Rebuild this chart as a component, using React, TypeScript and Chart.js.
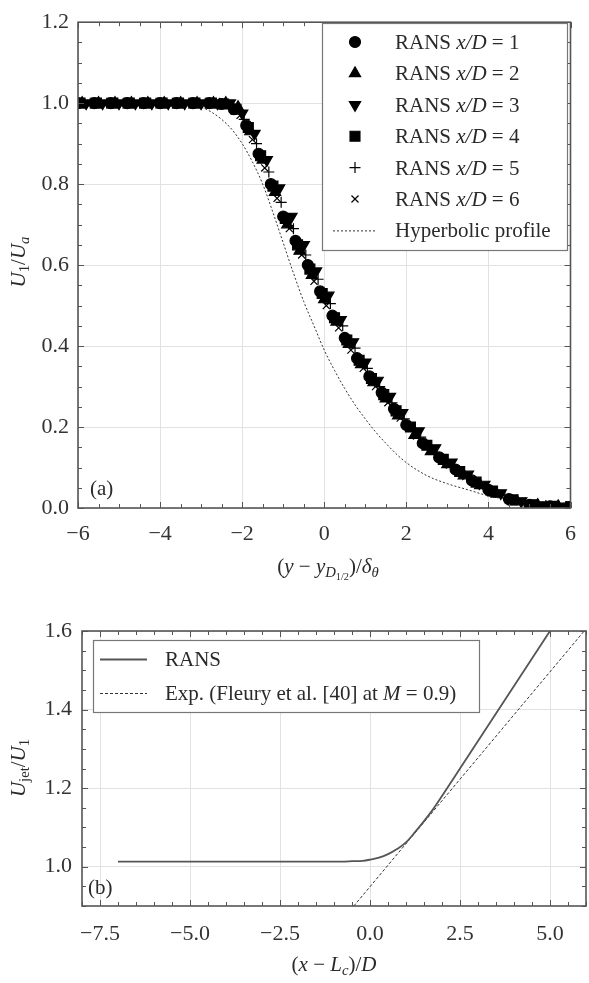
import React, { useEffect, useRef } from 'react';
import { Chart, registerables } from 'chart.js';
import { drawPoint } from 'chart.js/helpers';

Chart.register(...registerables);

const FONT = "'Liberation Serif', 'Times New Roman', 'DejaVu Serif', serif";

// ---------------- Panel (a) data ----------------
const stations = [1, 2, 3, 4, 5, 6];
const markerStyles = ['circle', 'triangle', 'triangle', 'rect', 'cross', 'crossRot'];
const markerRotations = [0, 0, 180, 0, 0, 0];
const markerRadii = [5.5, 6.5, 6.5, 7, 5.5, 5];

const xA1 = [-6.0, -5.6, -5.2, -4.8, -4.4, -4.0, -3.6, -3.2, -2.8, -2.5, -2.2, -1.9, -1.6, -1.3, -1.0, -0.7, -0.4, -0.1, 0.2, 0.5, 0.8, 1.1, 1.4, 1.7, 2.0, 2.4, 2.8, 3.2, 3.6, 4.0, 4.5, 5.0, 5.5, 6.0];
const yA1 = [1, 1, 1, 1, 1, 1, 1, 1, 1, 0.998, 0.985, 0.945, 0.875, 0.8, 0.72, 0.66, 0.6, 0.535, 0.475, 0.42, 0.37, 0.325, 0.285, 0.245, 0.205, 0.16, 0.125, 0.095, 0.068, 0.045, 0.022, 0.008, 0.004, 0.003];

const xA2 = [-5.9, -5.5, -5.1, -4.7, -4.3, -3.9, -3.5, -3.1, -2.7, -2.4, -2.1, -1.8, -1.5, -1.2, -0.9, -0.6, -0.3, 0.0, 0.3, 0.6, 0.9, 1.2, 1.5, 1.8, 2.2, 2.6, 3.0, 3.4, 3.8, 4.2, 4.7, 5.2, 5.7];
const yA2 = [1, 1, 1, 1, 1, 1, 1, 1, 1, 1, 0.99, 0.93, 0.86, 0.78, 0.7, 0.635, 0.575, 0.515, 0.46, 0.405, 0.355, 0.31, 0.27, 0.228, 0.18, 0.14, 0.108, 0.08, 0.056, 0.035, 0.016, 0.007, 0.004];

const xA3 = [-5.8, -5.4, -5.0, -4.6, -4.2, -3.8, -3.4, -3.0, -2.6, -2.3, -2.0, -1.7, -1.4, -1.1, -0.8, -0.5, -0.2, 0.1, 0.4, 0.7, 1.0, 1.3, 1.6, 1.9, 2.3, 2.7, 3.1, 3.5, 3.9, 4.3, 4.8, 5.3, 5.8];
const yA3 = [1, 1, 1, 1, 1, 1, 1, 1, 1, 1, 0.975, 0.925, 0.86, 0.79, 0.72, 0.65, 0.585, 0.525, 0.465, 0.41, 0.36, 0.315, 0.275, 0.235, 0.19, 0.148, 0.113, 0.083, 0.058, 0.037, 0.017, 0.007, 0.004];

const xA4 = [-5.95, -5.55, -5.15, -4.75, -4.35, -3.95, -3.55, -3.15, -2.75, -2.45, -2.15, -1.85, -1.55, -1.25, -0.95, -0.65, -0.35, -0.05, 0.25, 0.55, 0.85, 1.15, 1.45, 1.75, 2.1, 2.5, 2.9, 3.3, 3.7, 4.1, 4.6, 5.1, 5.6, 6.0];
const yA4 = [1, 1, 1, 1, 1, 1, 1, 1, 1, 0.998, 0.985, 0.94, 0.87, 0.795, 0.715, 0.65, 0.59, 0.53, 0.47, 0.415, 0.365, 0.32, 0.28, 0.24, 0.2, 0.155, 0.12, 0.09, 0.064, 0.042, 0.02, 0.008, 0.004, 0.003];

const xA5 = [-5.7, -5.3, -4.9, -4.5, -4.1, -3.7, -3.3, -2.9, -2.55, -2.25, -1.95, -1.65, -1.35, -1.05, -0.75, -0.45, -0.15, 0.15, 0.45, 0.75, 1.05, 1.35, 1.65, 1.95, 2.35, 2.75, 3.15, 3.55, 3.95, 4.4, 4.9, 5.4, 5.9];
const yA5 = [1, 1, 1, 1, 1, 1, 1, 1, 1, 0.995, 0.96, 0.9, 0.83, 0.755, 0.69, 0.625, 0.565, 0.505, 0.45, 0.395, 0.345, 0.3, 0.26, 0.22, 0.175, 0.135, 0.103, 0.076, 0.052, 0.031, 0.013, 0.006, 0.003];

const xA6 = [-5.75, -5.35, -4.95, -4.55, -4.15, -3.75, -3.35, -2.95, -2.65, -2.35, -2.05, -1.75, -1.45, -1.15, -0.85, -0.55, -0.25, 0.05, 0.35, 0.65, 0.95, 1.25, 1.55, 1.85, 2.25, 2.65, 3.05, 3.45, 3.85, 4.25, 4.75, 5.25, 5.75];
const yA6 = [1, 1, 1, 1, 1, 1, 1, 1, 1, 0.998, 0.97, 0.91, 0.84, 0.765, 0.69, 0.625, 0.56, 0.5, 0.445, 0.39, 0.345, 0.3, 0.26, 0.222, 0.178, 0.14, 0.106, 0.078, 0.053, 0.034, 0.016, 0.007, 0.004];

const hypX = [-6, -5, -4, -3.5, -3, -2.75, -2.5, -2.25, -2, -1.75, -1.5, -1.25, -1, -0.75, -0.5, -0.25, 0, 0.25, 0.5, 0.75, 1, 1.25, 1.5, 1.75, 2, 2.5, 3, 3.5, 4, 4.5, 5, 5.5, 6];
const hypY = [1, 1, 1, 0.999, 0.99, 0.978, 0.96, 0.935, 0.9, 0.855, 0.8, 0.73, 0.655, 0.58, 0.51, 0.45, 0.39, 0.34, 0.295, 0.255, 0.22, 0.188, 0.16, 0.134, 0.112, 0.08, 0.06, 0.045, 0.03, 0.02, 0.01, 0.005, 0.003];

const xTicksA = [-6, -4, -2, 0, 2, 4, 6];
const yTicksA = [0, 0.2, 0.4, 0.6, 0.8, 1.0, 1.2];

// ---------------- Panel (b) data ----------------
const ransX = [-7, -6, -5, -4, -3, -2, -1, -0.5, -0.2, 0, 0.25, 0.5, 0.75, 1.0, 1.25, 1.5, 1.75, 2.0, 2.5, 3.0, 3.5, 4.0, 4.5, 5.0, 5.2];
const ransY = [1.013, 1.013, 1.013, 1.013, 1.013, 1.013, 1.013, 1.014, 1.015, 1.018, 1.023, 1.032, 1.045, 1.062, 1.088, 1.116, 1.146, 1.18, 1.25, 1.32, 1.39, 1.46, 1.53, 1.6, 1.628];
const expX = [-0.45, 5.95];
const expY = [0.9, 1.6];

const xTicksB = [-7.5, -5, -2.5, 0, 2.5, 5];
const yTicksB = [1.0, 1.2, 1.4, 1.6];

// ---------------- helpers ----------------
type Seg = { t: string; i?: boolean; s?: number };

const fmt = (v: number, d: number) => (v < -1e-9 ? '\u2212' : '') + Math.abs(v).toFixed(d);

function drawRich(ctx: CanvasRenderingContext2D, segs: Seg[], x: number, y: number, size: number, align: 'left' | 'center', rot = 0, color = '#222') {
  ctx.save();
  ctx.translate(x, y);
  if (rot) ctx.rotate(rot);
  ctx.fillStyle = color;
  ctx.textBaseline = 'alphabetic';
  ctx.textAlign = 'left';
  const fontFor = (sg: Seg) => {
    const lv = sg.s || 0;
    const sz = size * Math.pow(0.7, lv);
    return `${sg.i ? 'italic ' : ''}${sz}px ${FONT}`;
  };
  let w = 0;
  const widths = segs.map((sg) => {
    ctx.font = fontFor(sg);
    const m = ctx.measureText(sg.t).width;
    w += m;
    return m;
  });
  let cx = align === 'center' ? -w / 2 : 0;
  segs.forEach((sg, k) => {
    ctx.font = fontFor(sg);
    const lv = sg.s || 0;
    const dy = lv === 0 ? 0 : lv === 1 ? size * 0.2 : size * 0.33;
    ctx.fillText(sg.t, cx, dy);
    cx += widths[k];
  });
  ctx.restore();
}

function labelSegs(label: string): Seg[] {
  return label
    .split(/(x\/D|\bM\b)/)
    .filter((p) => p.length > 0)
    .map((p) => ({ t: p, i: p === 'x/D' || p === 'M' }));
}

type FrameCfg = {
  minorX: number;
  minorY: number;
  legend: {
    box: [number, number, number, number];
    rows: number[];
    y0: number;
    dy: number;
    markerX: number;
    lineX0: number;
    lineX1: number;
    textX: number;
    size: number;
  };
  titles: { segs: Seg[]; x: number; y: number; size: number; align: 'left' | 'center'; rot?: number }[];
};

function makeFramePlugin(cfg: FrameCfg) {
  return {
    id: 'frame',
    afterDatasetsDraw(chart: any) {
      const ctx: CanvasRenderingContext2D = chart.ctx;
      const a = chart.chartArea;
      const sx = chart.scales.x;
      const sy = chart.scales.y;
      ctx.save();
      ctx.strokeStyle = '#555';
      ctx.lineWidth = 1;
      const majX = sx.ticks.map((t: any) => t.value);
      const majY = sy.ticks.map((t: any) => t.value);
      const isMaj = (v: number, arr: number[]) => arr.some((m) => Math.abs(m - v) < 1e-6);
      const nX = Math.round((sx.max - sx.min) / cfg.minorX);
      for (let k = 0; k <= nX; k++) {
        const v = sx.min + k * cfg.minorX;
        const p = Math.round(sx.getPixelForValue(v)) + 0.5;
        const len = isMaj(v, majX) ? 6 : 4;
        ctx.beginPath();
        ctx.moveTo(p, a.bottom);
        ctx.lineTo(p, a.bottom - len);
        ctx.moveTo(p, a.top);
        ctx.lineTo(p, a.top + len);
        ctx.stroke();
      }
      const nY = Math.round((sy.max - sy.min) / cfg.minorY);
      for (let k = 0; k <= nY; k++) {
        const v = sy.min + k * cfg.minorY;
        const p = Math.round(sy.getPixelForValue(v)) + 0.5;
        const len = isMaj(v, majY) ? 6 : 4;
        ctx.beginPath();
        ctx.moveTo(a.left, p);
        ctx.lineTo(a.left + len, p);
        ctx.moveTo(a.right, p);
        ctx.lineTo(a.right - len, p);
        ctx.stroke();
      }
      ctx.strokeStyle = '#555';
      ctx.lineWidth = 1.6;
      ctx.strokeRect(a.left, a.top, a.right - a.left, a.bottom - a.top);

      const L = cfg.legend;
      ctx.fillStyle = '#fff';
      ctx.fillRect(L.box[0], L.box[1], L.box[2], L.box[3]);
      ctx.strokeStyle = '#777';
      ctx.lineWidth = 1.2;
      ctx.strokeRect(L.box[0] + 0.5, L.box[1] + 0.5, L.box[2], L.box[3]);
      L.rows.forEach((di, r) => {
        const ds = chart.data.datasets[di];
        const cy = L.y0 + r * L.dy;
        if (ds.showLine) {
          ctx.save();
          ctx.strokeStyle = ds.borderColor;
          ctx.lineWidth = ds.borderWidth;
          ctx.setLineDash(ds.borderDash || []);
          ctx.beginPath();
          ctx.moveTo(L.lineX0, cy + 0.5);
          ctx.lineTo(L.lineX1, cy + 0.5);
          ctx.stroke();
          ctx.restore();
        } else {
          ctx.save();
          ctx.fillStyle = ds.backgroundColor;
          ctx.strokeStyle = ds.borderColor;
          ctx.lineWidth = ds.borderWidth;
          drawPoint(ctx, { pointStyle: ds.pointStyle, rotation: ds.rotation || 0, radius: ds.pointRadius, borderWidth: ds.borderWidth } as any, L.markerX, cy);
          ctx.restore();
        }
        drawRich(ctx, labelSegs(ds.label), L.textX, cy + 7, L.size, 'left', 0, '#2a2a2a');
      });

      cfg.titles.forEach((t) => drawRich(ctx, t.segs, t.x, t.y, t.size, t.align, t.rot || 0, '#2a2a2a'));
      ctx.restore();
    },
  };
}

const tickFont = { family: FONT, size: 22 };

function PanelA() {
  const ref = useRef<HTMLCanvasElement>(null);
  useEffect(() => {
    const xs = [xA1, xA2, xA3, xA4, xA5, xA6];
    const ys = [yA1, yA2, yA3, yA4, yA5, yA6];
    const datasets: any[] = stations.map((st, i) => ({
      label: `RANS x/D = ${st}`,
      data: xs[i].map((x, j) => ({ x, y: ys[i][j] })),
      pointStyle: markerStyles[i],
      rotation: markerRotations[i],
      pointRadius: markerRadii[i],
      backgroundColor: '#000',
      borderColor: '#000',
      borderWidth: 1.2,
      showLine: false,
      order: i,
    }));
    datasets.push({
      label: 'Hyperbolic profile',
      data: hypX.map((x, j) => ({ x, y: hypY[j] })),
      showLine: true,
      borderColor: '#333',
      borderWidth: 1,
      borderDash: [2, 2],
      pointRadius: 0,
      cubicInterpolationMode: 'monotone',
      fill: false,
      order: 20,
    });
    const frame = makeFramePlugin({
      minorX: 0.5,
      minorY: 0.05,
      legend: { box: [322, 23, 245, 227], rows: [0, 1, 2, 3, 4, 5, 6], y0: 42, dy: 31.4, markerX: 355, lineX0: 333, lineX1: 377, textX: 395, size: 21 },
      titles: [
        { segs: [{ t: '(' }, { t: 'y', i: true }, { t: ' \u2212 ' }, { t: 'y', i: true }, { t: 'D', i: true, s: 1 }, { t: '1/2', s: 2 }, { t: ')/' }, { t: '\u03b4', i: true }, { t: '\u03b8', i: true, s: 1 }], x: 328, y: 573, size: 21, align: 'center' },
        { segs: [{ t: 'U', i: true }, { t: '1', s: 1 }, { t: '/' }, { t: 'U', i: true }, { t: 'a', i: true, s: 1 }], x: 25, y: 262, size: 21, align: 'center', rot: -Math.PI / 2 },
        { segs: [{ t: '(a)' }], x: 90, y: 495, size: 21, align: 'left' },
      ],
    });
    const chart = new Chart(ref.current as HTMLCanvasElement, {
      type: 'scatter',
      data: { datasets },
      plugins: [frame as any],
      options: {
        responsive: false,
        animation: false,
        events: [],
        layout: { padding: { left: 0, top: 13, right: 10, bottom: 0 } },
        plugins: { legend: { display: false }, tooltip: { enabled: false } },
        scales: {
          x: {
            type: 'linear',
            min: -6,
            max: 6,
            afterBuildTicks: (s: any) => { s.ticks = xTicksA.map((v) => ({ value: v })); },
            afterFit: (s: any) => { s.height = 92; },
            ticks: { callback: (v: any) => fmt(Number(v), 0), font: tickFont, color: '#333', padding: 13, maxRotation: 0, autoSkip: false },
            grid: { color: '#e2e2e2', drawTicks: false, lineWidth: 1 },
            border: { display: false },
          },
          y: {
            type: 'linear',
            min: 0,
            max: 1.2,
            afterBuildTicks: (s: any) => { s.ticks = yTicksA.map((v) => ({ value: v })); },
            afterFit: (s: any) => { s.width = 78; },
            ticks: { callback: (v: any) => fmt(Number(v), 1), font: tickFont, color: '#333', padding: 9, autoSkip: false },
            grid: { color: '#e2e2e2', drawTicks: false, lineWidth: 1 },
            border: { display: false },
          },
        },
      } as any,
    });
    return () => chart.destroy();
  }, []);
  return <canvas ref={ref} width={589} height={600} style={{ position: 'absolute', left: 0, top: 0, width: 589, height: 600 }} />;
}

function PanelB() {
  const ref = useRef<HTMLCanvasElement>(null);
  useEffect(() => {
    const datasets: any[] = [
      {
        label: 'RANS',
        data: ransX.map((x, j) => ({ x, y: ransY[j] })),
        showLine: true,
        borderColor: '#555',
        borderWidth: 1.8,
        pointRadius: 0,
        cubicInterpolationMode: 'monotone',
        fill: false,
      },
      {
        label: 'Exp. (Fleury et al. [40] at M = 0.9)',
        data: expX.map((x, j) => ({ x, y: expY[j] })),
        showLine: true,
        borderColor: '#333',
        borderWidth: 1,
        borderDash: [3, 2],
        pointRadius: 0,
        fill: false,
      },
    ];
    const frame = makeFramePlugin({
      minorX: 0.5,
      minorY: 0.05,
      legend: { box: [93, 40, 386, 72], rows: [0, 1], y0: 59, dy: 34, markerX: 123, lineX0: 100, lineX1: 147, textX: 165, size: 21 },
      titles: [
        { segs: [{ t: '(' }, { t: 'x', i: true }, { t: ' \u2212 ' }, { t: 'L', i: true }, { t: 'c', i: true, s: 1 }, { t: ')/' }, { t: 'D', i: true }], x: 334, y: 371, size: 21, align: 'center' },
        { segs: [{ t: 'U', i: true }, { t: 'jet', s: 1 }, { t: '/' }, { t: 'U', i: true }, { t: '1', s: 1 }], x: 25, y: 168, size: 21, align: 'center', rot: -Math.PI / 2 },
        { segs: [{ t: '(b)' }], x: 88, y: 294, size: 21, align: 'left' },
      ],
    });
    const chart = new Chart(ref.current as HTMLCanvasElement, {
      type: 'scatter',
      data: { datasets },
      plugins: [frame as any],
      options: {
        responsive: false,
        animation: false,
        events: [],
        layout: { padding: { left: 0, top: 31, right: 3, bottom: 0 } },
        plugins: { legend: { display: false }, tooltip: { enabled: false } },
        scales: {
          x: {
            type: 'linear',
            min: -8,
            max: 6,
            afterBuildTicks: (s: any) => { s.ticks = xTicksB.map((v) => ({ value: v })); },
            afterFit: (s: any) => { s.height = 77; },
            ticks: { callback: (v: any) => fmt(Number(v), 1), font: tickFont, color: '#333', padding: 15, maxRotation: 0, autoSkip: false },
            grid: { color: '#e2e2e2', drawTicks: false, lineWidth: 1 },
            border: { display: false },
          },
          y: {
            type: 'linear',
            min: 0.9,
            max: 1.6,
            afterBuildTicks: (s: any) => { s.ticks = yTicksB.map((v) => ({ value: v })); },
            afterFit: (s: any) => { s.width = 82; },
            ticks: { callback: (v: any) => fmt(Number(v), 1), font: tickFont, color: '#333', padding: 10, autoSkip: false },
            grid: { color: '#e2e2e2', drawTicks: false, lineWidth: 1 },
            border: { display: false },
          },
        },
      } as any,
    });
    return () => chart.destroy();
  }, []);
  return <canvas ref={ref} width={589} height={383} style={{ position: 'absolute', left: 0, top: 600, width: 589, height: 383 }} />;
}

export default function App() {
  return (
    <div style={{ position: 'absolute', left: 0, top: 0, width: 589, height: 983, background: '#fff', overflow: 'hidden' }}>
      <PanelA />
      <PanelB />
    </div>
  );
}
